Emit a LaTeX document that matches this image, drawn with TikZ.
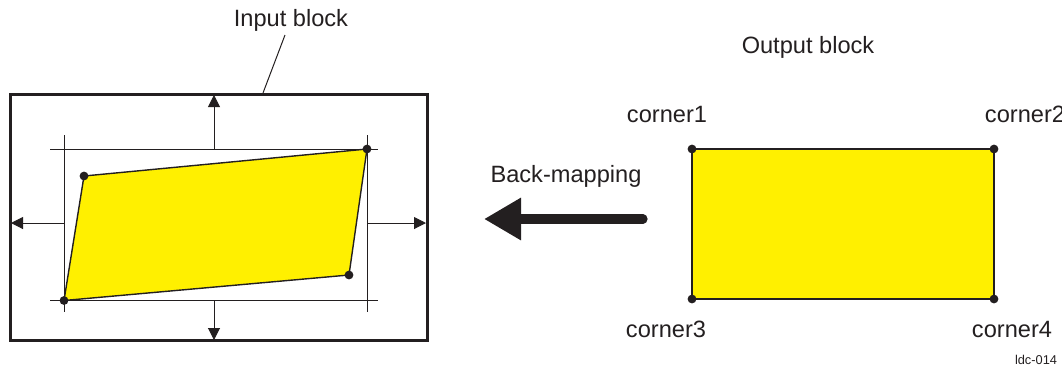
\documentclass[tikz,border=0pt]{standalone}
\usepackage{fontspec}
\setmainfont{Liberation Sans}
\usetikzlibrary{arrows.meta,positioning}
\definecolor{blockyellow}{RGB}{255,240,0}
\definecolor{inkblack}{RGB}{35,31,32}

\begin{document}
\begin{tikzpicture}[x=0.5pt,y=-0.5pt,>={Triangle[length=6pt,width=6pt]},
    font=\fontsize{11.8}{14}\selectfont,
    thinline/.style={draw=inkblack,line width=0.5pt},
    quad/.style={fill=blockyellow,draw=inkblack,line width=0.7pt,line join=round},
    cornerdot/.style={fill=inkblack},
    lbl/.style={inner sep=0pt,text=inkblack}]
  \useasboundingbox (0,0) rectangle (1062,372);
  % input block frame
  \draw[draw=inkblack,line width=1.5pt] (10,94) rectangle (427,340);
  % helper lines round the warped block
  \draw[thinline] (50,149.5) -- (378,149.5);
  \draw[thinline] (50,300.5) -- (378,300.5);
  \draw[thinline] (64,135) -- (64,312);
  \draw[thinline] (367,135) -- (367,312);
  % growth arrows
  \draw[thinline,->] (214,149.5) -- (214,95);
  \draw[thinline,->] (214,300.5) -- (214,340);
  \draw[thinline,->] (64,223) -- (11,223);
  \draw[thinline,->] (367,223) -- (426,223);
  % warped block
  \coordinate (in1) at (84,176);
  \coordinate (in2) at (367,149);
  \coordinate (in3) at (64,300.5);
  \coordinate (in4) at (349,275);
  \draw[quad] (in1) -- (in2) -- (in4) -- (in3) -- cycle;
  \foreach \c in {in1,in2,in3,in4} \fill[cornerdot] (\c) circle (2.2pt);
  % label with leader
  \node[lbl] (inlab) at (291,20) {Input block};
  \coordinate (inhit) at (263,93);
  \draw[thinline] (285,35) -- (inhit);
  % output block
  \node[lbl] (outlab) at (808,47) {Output block};
  \coordinate (out1) at (692,149);
  \coordinate (out2) at (994,149);
  \coordinate (out3) at (692,299);
  \coordinate (out4) at (994,299);
  \draw[quad] (out1) rectangle (out4);
  \foreach \c in {out1,out2,out3,out4} \fill[cornerdot] (\c) circle (2.2pt);
  \node[lbl] (c1) at (667,114) {corner1};
  \node[lbl] (c2) at (1025,114) {corner2};
  \node[lbl] (c3) at (666,329) {corner3};
  \node[lbl] (c4) at (1012,329) {corner4};
  % back-mapping arrow
  \node[lbl] (bmlab) at (566,176) {Back-mapping};
  \coordinate (bmtail) at (643,219);
  \coordinate (bmtip) at (484,219);
  \draw[draw=inkblack,line width=4.6pt,line cap=round,
        -{Triangle[length=18.5pt,width=20pt]}] (bmtail) -- (bmtip);
  \node[lbl,font=\fontsize{6.4}{8}\selectfont] (tag) at (1036,360) {ldc-014};
\end{tikzpicture}
\end{document}
